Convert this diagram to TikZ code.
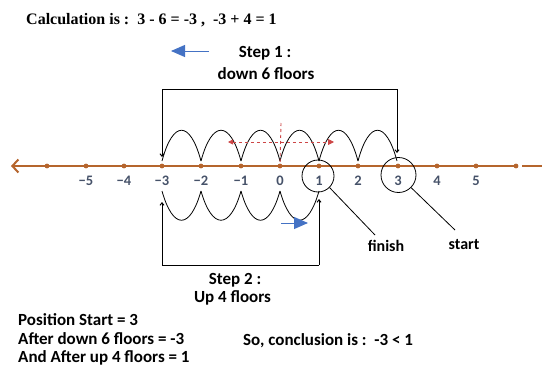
\documentclass[tikz,border=0pt]{standalone}
\usepackage{fontspec}
\setmainfont{Carlito}
\newfontfamily\serifb{Liberation Serif}
\usetikzlibrary{arrows.meta}
\definecolor{brownline}{RGB}{181,101,45}
\definecolor{numcol}{RGB}{70,82,105}
\definecolor{bluearr}{RGB}{68,114,196}
\definecolor{reddash}{RGB}{205,70,70}
\tikzset{
  hump/.style={black, line width=0.8pt},
  boxline/.style={black, line width=1pt},
  numlab/.style={text=numcol, font=\bfseries\fontsize{14.5}{16}\selectfont, inner sep=0pt},
  txt/.style={font=\bfseries\fontsize{17}{21}\selectfont, inner sep=0pt},
  smalltxt/.style={font=\bfseries\fontsize{16}{18}\selectfont, inner sep=0pt},
  ring/.style={circle, draw, line width=0.8pt, minimum size=32pt, inner sep=0pt},
  bluetip/.style={bluearr, line width=1pt, -{Triangle[length=14pt,width=12pt]}},
  tinytip/.style={-{Straight Barb[length=2.5pt,width=4pt]}}
}
\begin{document}
\begin{tikzpicture}[x=1pt,y=-1pt]
\useasboundingbox (0,0) rectangle (542,367);
% number line
\draw[brownline, line width=2pt, {Straight Barb[length=6pt,width=13pt,line width=2pt]}-] (11,166) -- (518,166);
\draw[brownline, line width=2pt] (522,166) -- (542,166);
\foreach \nm/\x in {m6/47,m5/86,m4/124,m3/162,m2/201,m1/241,z0/280,p1/319,p2/358,p3/398,p4/437,p5/476,p6/516}{
  \coordinate (t\nm) at (\x,166);
  \fill[brownline] (t\nm) circle (2.4);
}
\foreach \nm/\lab in {m5/−5,m4/−4,m3/−3,m2/−2,m1/−1,z0/0,p1/1,p2/2,p3/3,p4/4,p5/5}{
  \node[numlab] at ([yshift=-15pt]t\nm) {\lab};
}
% upper humps
\foreach \a/\b in {162/201,201/241,241/280,280/319,319/358,358/397}{
  \draw[hump] (\a,161) .. controls (\a+11,120) and (\b-11,120) .. (\b,161);
}
% lower humps
\foreach \a/\b in {162/201,201/241,241/280,280/319}{
  \draw[hump] (\a,191) .. controls (\a+11,230) and (\b-11,230) .. (\b,191);
}
% boxes
\draw[boxline, tinytip] (162,89) -- (162,157);
\draw[boxline] (162,89) -- (397,89);
\draw[boxline, tinytip] (397,89) -- (397,153);
\draw[boxline, tinytip] (162,265) -- (162,202);
\draw[boxline] (162,265) -- (319,265);
\draw[boxline, tinytip] (319,265) -- (319,199);
% red dashed
\coordinate (rl) at (228,142);
\coordinate (rr) at (334,142);
\draw[reddash, line width=0.9pt, dashed, {Triangle[length=5pt,width=5pt]}-{Triangle[length=6pt,width=6pt]}] (rl) -- (rr);
\coordinate (vt) at (281,123);
\draw[reddash, line width=0.9pt, dashed] (vt) -- (tz0);
% blue arrows
\coordinate (b1s) at (209,51);
\coordinate (b1e) at (171,51);
\draw[bluetip] (b1s) -- (b1e);
\coordinate (b2s) at (281,223);
\coordinate (b2e) at (308,223);
\draw[bluetip] (b2s) -- (b2e);
% circles and labels
\node[ring] (c1) at (318,176) {};
\node[ring, minimum size=35pt] (c3) at (398.5,175) {};
\node[smalltxt] (fin) at (386,246) {finish};
\node[smalltxt] (sta) at (464,245) {start};
\draw[line width=0.8pt] (c1.-45) -- (375,235);
\draw[line width=0.8pt] (c3.-45) -- (455,230);
% texts
\node[anchor=west, inner sep=0pt, font=\serifb\bfseries\fontsize{16}{18}\selectfont] (calc) at (26,20) {Calculation is :\ \ 3 - 6 = -3 ,\ \ -3 + 4 = 1};
\node[txt] (s1a) at (265,53) {Step 1 :};
\node[txt] (s1b) at (266,74) {down 6 floors};
\node[txt] (s2a) at (235,280) {Step 2 :};
\node[txt] (s2b) at (232.5,298) {Up 4 floors};
\node[txt, anchor=west] (l1) at (18,320) {Position Start = 3};
\node[txt, anchor=west] (l2) at (18,339) {After down 6 floors = -3};
\node[txt, anchor=west] (l3) at (18,358) {And After up 4 floors = 1};
\node[txt, anchor=west] (concl) at (243,341) {So, conclusion is :\ \ -3 < 1};
\end{tikzpicture}
\end{document}
